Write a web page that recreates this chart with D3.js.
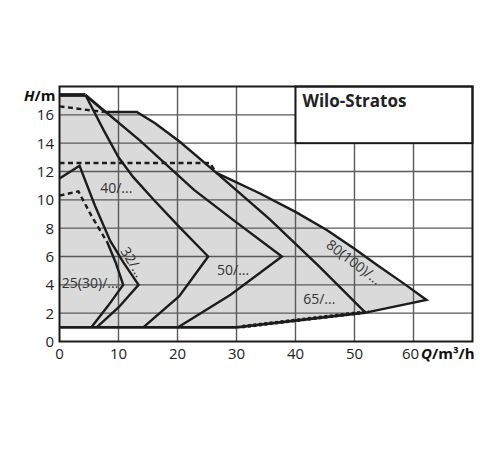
<!DOCTYPE html>
<html>
<head>
  <meta charset="utf-8">
  <script src="https://d3js.org/d3.v7.min.js"></script>
  <title>Wilo-Stratos</title>
  <style>
    body { margin: 0; background: #fff; }
    text { font-family: "Open Sans", "Noto Sans", sans-serif; }
  </style>
</head>
<body>
<script>

  // ticks
  var xTicks = [0, 10, 20, 30, 40, 50, 60];
  var yTicks = [0, 2, 4, 6, 8, 10, 12, 14, 16];

  // curves, [Q m3/h, H m]
  var curve25Dash = [[0, 10.3], [3.2, 10.6], [5.5, 8.8], [8.1, 7.0]];
  var curve25 = [[8.1, 7.0], [9.5, 5.6], [10.8, 4], [8.2, 2.5], [5.4, 1]];
  var curve32 = [[0, 11.5], [3.4, 12.4], [6.0, 9.6], [8.6, 7.1], [10.8, 5.6], [13.4, 4], [10, 2.4], [6.3, 1]];
  var curve40 = [[4.4, 17.4], [7.5, 14.9], [10, 13], [12.5, 11.6], [16.2, 9.9], [20.5, 8.0], [25.2, 6], [20.3, 3.2], [14.2, 1]];
  var curve50 = [[4.4, 17.4], [13.6, 14.2], [22.8, 10.7], [29.7, 8.5], [37.7, 6], [29, 3.3], [20.1, 1]];
  var curve65Dash = [[0, 16.6], [7.5, 16.2]];
  var curve65 = [[4.4, 17.4], [7.7, 16.2], [13.1, 16.2], [16.2, 15.4], [20.4, 14.1], [26.6, 11.9], [35.7, 8.6], [44, 5.3], [51.8, 2.06]];
  var curve80Dash = [[0, 12.6], [25.5, 12.6], [26.6, 11.9]];
  var curve80 = [[26.6, 11.9], [34, 10.45], [40, 9.15], [45.3, 7.87], [50, 6.55], [54, 5.35], [58.5, 4.05], [62.2, 2.93], [52.1, 2.06]];
  var topLine = [[0, 17.4], [4.4, 17.4]];
  var minLine = [[0, 1], [30, 1], [52.1, 2.06]];
  var minDash = [[31, 1.05], [52.4, 2.1]];

  // grey area covered by all pumps
  var envelope = [[0, 1], [0, 17.4], [4.4, 17.4], [7.7, 16.2], [13.1, 16.2], [16.2, 15.4], [20.4, 14.1],
                  [26.6, 11.9], [34, 10.45], [40, 9.15], [45.3, 7.87], [50, 6.55], [54, 5.35], [58.5, 4.05],
                  [62.2, 2.93], [52.1, 2.06], [30, 1]];

  // size labels
  var labels = [
    {text: "25(30)/...", q: 0.4, h: 3.8, rot: 0},
    {text: "32/...", q: 12.4, h: 5.6, rot: 58},
    {text: "40/...", q: 6.9, h: 10.5, rot: 0},
    {text: "50/...", q: 26.7, h: 4.7, rot: 0},
    {text: "65/...", q: 41.3, h: 2.65, rot: 0},
    {text: "80(100)/...", q: 49.9, h: 5.6, rot: 37}
  ];

  var width = 500, height = 450;

  var x = d3.scaleLinear().domain([0, 70]).range([59.5, 472.5]);
  var y = d3.scaleLinear().domain([0, 18]).range([341.5, 86.5]);

  var svg = d3.select("body").append("svg")
      .attr("width", width)
      .attr("height", height);

  var line = d3.line()
      .x(function(d) { return x(d[0]); })
      .y(function(d) { return y(d[1]); });

  // envelope fill
  svg.append("path")
      .attr("d", line(envelope) + "Z")
      .style("fill", "#dadada")
      .style("stroke", "none");

  // grid
  svg.append("g").selectAll("line")
      .data(xTicks.slice(1))
      .enter().append("line")
      .attr("x1", function(d) { return x(d); })
      .attr("x2", function(d) { return x(d); })
      .attr("y1", y(0))
      .attr("y2", y(18))
      .style("stroke", "#5a5a5a")
      .style("stroke-width", 1.4);

  svg.append("g").selectAll("line")
      .data(yTicks.slice(1))
      .enter().append("line")
      .attr("x1", x(0))
      .attr("x2", x(70))
      .attr("y1", function(d) { return y(d); })
      .attr("y2", function(d) { return y(d); })
      .style("stroke", "#5a5a5a")
      .style("stroke-width", 1.4);

  // title box
  svg.append("rect")
      .attr("x", x(40))
      .attr("y", y(18))
      .attr("width", x(70) - x(40))
      .attr("height", y(14) - y(18))
      .style("fill", "#fff")
      .style("stroke", "#1a1a1a")
      .style("stroke-width", 2);

  svg.append("text")
      .attr("x", x(40) + 7)
      .attr("y", y(18) + 20)
      .style("font-size", "17px")
      .style("font-weight", "bold")
      .style("fill", "#222")
      .text("Wilo-Stratos");

  // curves
  function drawCurve(data, w, dash) {
    svg.append("path")
        .attr("d", line(data))
        .style("fill", "none")
        .style("stroke", "#1c1c1c")
        .style("stroke-width", w)
        .style("stroke-linejoin", "miter")
        .style("stroke-dasharray", dash ? dash : null);
  }

  drawCurve(curve25Dash, 2.4, "5,3.5");
  drawCurve(curve25, 2.4);
  drawCurve(curve32, 2.4);
  drawCurve(curve40, 2.4);
  drawCurve(curve50, 2.4);
  drawCurve(curve65Dash, 2.4, "5,3.5");
  drawCurve(curve65, 2.4);
  drawCurve(curve80Dash, 2.4, "5,3.5");
  drawCurve(curve80, 2.4);
  drawCurve(topLine, 3.8);
  drawCurve(minLine, 2.8);
  drawCurve(minDash, 3.6, "3,2.5");

  // frame
  svg.append("rect")
      .attr("x", x(0))
      .attr("y", y(18))
      .attr("width", x(70) - x(0))
      .attr("height", y(0) - y(18))
      .style("fill", "none")
      .style("stroke", "#1a1a1a")
      .style("stroke-width", 2);

  // tick labels
  svg.append("g").selectAll("text")
      .data(xTicks)
      .enter().append("text")
      .attr("x", function(d) { return d == 60 ? x(d) - 3 : x(d); })
      .attr("y", 359)
      .attr("text-anchor", "middle")
      .style("font-size", "15px")
      .style("fill", "#222")
      .text(function(d) { return d; });

  svg.append("g").selectAll("text")
      .data(yTicks)
      .enter().append("text")
      .attr("x", 54)
      .attr("y", function(d) { return y(d); })
      .attr("dy", "0.36em")
      .attr("text-anchor", "end")
      .style("font-size", "15px")
      .style("fill", "#222")
      .text(function(d) { return d; });

  // axis names
  var hName = svg.append("text")
      .attr("x", 24)
      .attr("y", 101)
      .style("font-size", "15px")
      .style("font-weight", "bold")
      .style("fill", "#111");
  hName.append("tspan").style("font-style", "italic").text("H");
  hName.append("tspan").text("/m");

  var qName = svg.append("text")
      .attr("x", 421)
      .attr("y", 359)
      .style("font-size", "15px")
      .style("font-weight", "bold")
      .style("fill", "#111");
  qName.append("tspan").style("font-style", "italic").text("Q");
  qName.append("tspan").text("/m³/h");

  // size labels
  svg.append("g").selectAll("text")
      .data(labels)
      .enter().append("text")
      .attr("transform", function(d) {
        return "translate(" + x(d.q) + "," + y(d.h) + ") rotate(" + d.rot + ")";
      })
      .attr("text-anchor", function(d) { return d.rot ? "middle" : "start"; })
      .attr("dy", function(d) { return d.rot ? "0.35em" : 0; })
      .style("font-size", "14px")
      .style("fill", "#333")
      .text(function(d) { return d.text; });

</script>
</body>
</html>
